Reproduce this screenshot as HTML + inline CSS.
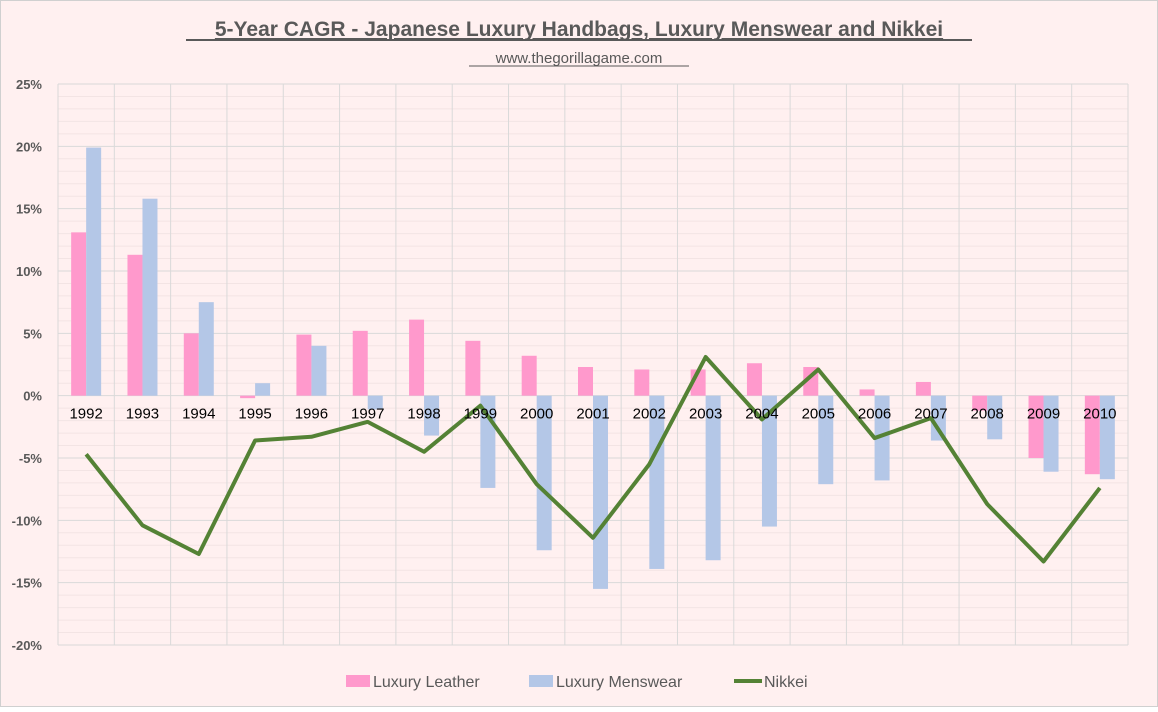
<!DOCTYPE html>
<html><head><meta charset="utf-8"><style>
body{margin:0;background:#fff;}
#c{width:1158px;height:707px;}
text{font-family:"Liberation Sans",sans-serif;}
</style></head><body>
<svg id="c" width="1158" height="707" xmlns="http://www.w3.org/2000/svg">
<rect x="0.5" y="0.5" width="1157" height="706" fill="#fff0f0" stroke="#d0d0d0"/>
<text x="579" y="36" text-anchor="middle" font-size="21" font-weight="bold" fill="#595959" text-decoration="underline">5-Year CAGR - Japanese Luxury Handbags, Luxury Menswear and Nikkei</text>
<line x1="186" y1="40" x2="972" y2="40" stroke="#595959" stroke-width="2"/>
<text x="579" y="63" text-anchor="middle" font-size="15" fill="#595959">www.thegorillagame.com</text>
<line x1="469" y1="66" x2="689" y2="66" stroke="#595959" stroke-width="1"/>
<g id="grid"></g><g id="bars"></g><g id="line"></g><g id="labels"></g>
<g>
<rect x="346" y="675" width="24" height="12" fill="#ff99cc"/>
<text x="373" y="687" font-size="16" fill="#595959">Luxury Leather</text>
<rect x="529" y="675" width="24" height="12" fill="#b4c7e7"/>
<text x="556" y="687" font-size="16" fill="#595959">Luxury Menswear</text>
<line x1="734" y1="681" x2="762" y2="681" stroke="#548235" stroke-width="4"/>
<text x="764" y="687" font-size="16" fill="#595959">Nikkei</text>
</g>
</svg>
<script>
const categories=["1992","1993","1994","1995","1996","1997","1998","1999","2000","2001","2002","2003","2004","2005","2006","2007","2008","2009","2010"];
const leather=[13.1,11.3,5.0,-0.2,4.9,5.2,6.1,4.4,3.2,2.3,2.1,2.1,2.6,2.3,0.5,1.1,-1.2,-5.0,-6.3];
const menswear=[19.9,15.8,7.5,1.0,4.0,-1.1,-3.2,-7.4,-12.4,-15.5,-13.9,-13.2,-10.5,-7.1,-6.8,-3.6,-3.5,-6.1,-6.7];
const nikkei=[-4.7,-10.4,-12.7,-3.6,-3.3,-2.1,-4.5,-0.8,-7.1,-11.4,-5.5,3.1,-1.9,2.1,-3.4,-1.8,-8.7,-13.3,-7.4];
const yTicks=[25,20,15,10,5,0,-5,-10,-15,-20];
const NS="http://www.w3.org/2000/svg";
const X0=58,X1=1128,Y0=84,Y1=645,YMAX=25,YMIN=-20;
const step=(X1-X0)/categories.length;
function y(v){return Y0+(YMAX-v)/(YMAX-YMIN)*(Y1-Y0);}
function xc(i){return X0+step*(i+0.5);}
function mk(tag,attrs,parent){const e=document.createElementNS(NS,tag);for(const k in attrs)e.setAttribute(k,attrs[k]);document.getElementById(parent).appendChild(e);return e;}
for(let v=YMIN;v<=YMAX;v++){
  const l=mk('line',{x1:X0,x2:X1,y1:y(v),y2:y(v),stroke:v%5===0?'#d9d9d9':'#f3e4e4','stroke-width':1},'grid');
  
  
}
for(let i=0;i<=categories.length;i++){
  const l=mk('line',{x1:X0+step*i,x2:X0+step*i,y1:Y0,y2:Y1,stroke:'#d9d9d9','stroke-width':1},'grid');
  
  
}
yTicks.forEach(v=>{
  const t=mk('text',{x:42,y:y(v)+5,'text-anchor':'end','font-size':13,'font-weight':'bold',fill:'#595959'},'labels');
  t.textContent=v+'%';
  
  
});
const bw=15;
categories.forEach((c,i)=>{
  const a=leather[i],b=menswear[i];
  const r1=mk('rect',{x:xc(i)-bw,y:Math.min(y(a),y(0)),width:bw,height:Math.abs(y(a)-y(0)),fill:'#ff99cc'},'bars');
  
  
  const r2=mk('rect',{x:xc(i),y:Math.min(y(b),y(0)),width:bw,height:Math.abs(y(b)-y(0)),fill:'#b4c7e7'},'bars');
  
  
  const t=mk('text',{x:xc(i),y:y(0)+23,'text-anchor':'middle','font-size':15,fill:'#000'},'labels');
  t.textContent=c;
  
  
});
const pts=nikkei.map((v,i)=>xc(i)+','+y(v)).join(' ');
const pl=mk('polyline',{points:pts,fill:'none',stroke:'#548235','stroke-width':4,'stroke-linejoin':'round'},'line');


</script>
</body></html>
